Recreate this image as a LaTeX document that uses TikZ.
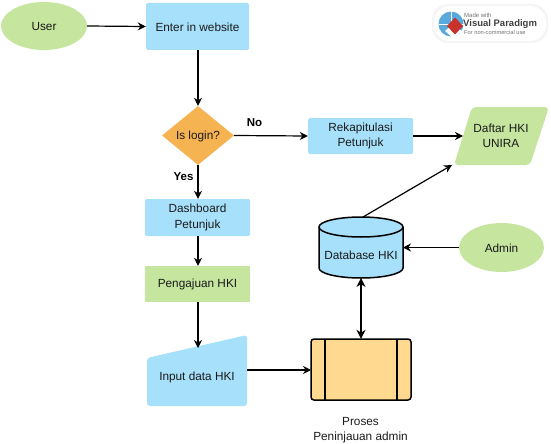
\documentclass[tikz,border=0pt]{standalone}
\usepackage{fontspec}
\setmainfont{Liberation Sans}
\usetikzlibrary{arrows.meta,shapes.geometric}
\definecolor{bl}{HTML}{A6E0FA}
\definecolor{gr}{HTML}{C6E59F}
\definecolor{orng}{HTML}{F6B352}
\definecolor{yel}{HTML}{FFD98F}
\definecolor{txt}{HTML}{1A1A1A}
\definecolor{globe}{HTML}{5AA9DC}
\definecolor{vpred}{HTML}{C8322B}
\tikzset{
  x=1pt,y=-1pt,
  every node/.style={font=\fontsize{11.8}{15.5}\selectfont,text=txt,align=center,inner sep=0pt},
  lowered/.style={execute at begin node={\rule{0pt}{10pt}}},
  lowered more/.style={execute at begin node={\rule{0pt}{12pt}}},
  boxb/.style={fill=bl,rounded corners=1.5pt,minimum width=#1},
  boxb/.default=105,
  ell/.style={lowered,ellipse,fill=gr,minimum width=#1},
  conn/.style={draw=black,line width=1.2pt,-{Stealth[length=8pt,width=8pt]}},
  twoway/.style={draw=black,line width=1.2pt,{Stealth[length=9pt,width=9pt]}-{Stealth[length=9pt,width=9pt]}},
  outline/.style={draw=black,line width=1.5pt},
  edgelabel/.style={font=\fontsize{11.5}{13}\bfseries\selectfont,text=black},
}
\begin{document}
\begin{tikzpicture}
\useasboundingbox (0,0) rectangle (551,444);
% badge
\fill[black!4,rounded corners=16pt] (432,4) rectangle (548,43);
\fill[white,rounded corners=16pt] (434,6) rectangle (546,41);
\fill[globe] (451,24) circle (12.5);
\draw[white,line width=.4pt] (451,11.5) -- (451,36.5) (438.5,24) -- (463.5,24);
\fill[white] (452,25) -- (462,31) -- (453,38) -- (445,31) -- cycle;
\fill[vpred] (455,17.5) -- (463,26) -- (455,34.5) -- (447,26) -- cycle;
\node[anchor=west,font=\fontsize{6}{7}\selectfont,text=black!55] (bmade) at (464,15) {Made with};
\node[anchor=west,font=\fontsize{9.5}{10}\bfseries\selectfont,text=black!75] (bvp) at (463,24) {Visual Paradigm};
\node[anchor=west,font=\fontsize{5.7}{7}\selectfont,text=black!55] (bfor) at (464,32.5) {For non-commercial use};
% free-form shapes
\fill[bl,rounded corners=3pt] (147,406) -- (147,358) -- (247,335) -- (247,406) -- cycle;
\fill[gr,rounded corners=4pt] (472,107) -- (549,107) -- (530,165) -- (454,165) -- cycle;
\fill[bl] (319,227) -- (319,268) arc[start angle=180,end angle=360,x radius=42,y radius=-10] -- (403,227) arc[start angle=0,end angle=180,x radius=42,y radius=-10] -- cycle;
\draw[outline] (319,227) -- (319,268) arc[start angle=180,end angle=360,x radius=42,y radius=-10] -- (403,227);
\draw[outline] (361,227) ellipse[x radius=42,y radius=10];
\draw[outline,fill=yel,rounded corners=3pt] (311,339) rectangle (411,400);
\draw[outline] (325,339) -- (325,400) (397,339) -- (397,400);
% nodes
\node[ell=86,minimum height=48] (user) at (44,26) {User};
\node[lowered,boxb=103,minimum height=47] (enter) at (197.5,26.5) {Enter in website};
\node[lowered,diamond,aspect=1.22,fill=orng,minimum width=72,minimum height=59] (login) at (198,135.5) {Is login?};
\node[lowered more,boxb,minimum height=37] (dash) at (197.5,217.5) {Dashboard\\Petunjuk};
\node[lowered,fill=gr,minimum width=105,minimum height=36] (peng) at (197.5,284) {Pengajuan HKI};
\node[lowered,minimum width=100,minimum height=58] (input) at (197,377) {Input data HKI};
\node[lowered,boxb,minimum height=36] (rekap) at (360.5,136) {Rekapitulasi\\Petunjuk};
\node[minimum width=76,minimum height=58] (daftar) at (501,136) {Daftar HKI\\UNIRA};
\node[lowered,minimum width=84,minimum height=61] (db) at (361,254.5) {Database HKI};
\node[ell=85,minimum height=49] (admin) at (501.5,247.5) {Admin};
\node[minimum width=100,minimum height=61] (proses) at (361,369.5) {};
\node[lowered] (proseslabel) at (360.5,430) {Proses\\Peninjauan admin};
\coordinate (inputtop) at (198,348);
\coordinate (dbtop) at (363,217);
\coordinate (daftarbl) at (452,165);
\coordinate (dbright) at (403,247.5);
\coordinate (daftarleft) at (463,136);
\coordinate (dbbottom) at (361,278);
\coordinate (inputright) at (247,370);
\coordinate (prosesleft) at (311,370);
% connectors
\draw[conn] (user.east) -- (enter.west);
\draw[conn] (enter.south -| login.north) -- (login.north);
\draw[conn] (login.south) -- (dash.north -| login.south);
\draw[conn] (dash.south -| login.south) -- (peng.north -| login.south);
\draw[conn] (peng.south -| inputtop) -- (inputtop);
\draw[conn] (inputright) -- (prosesleft);
\draw[twoway] (proses.north) -- (dbbottom);
\draw[conn] (admin.west) -- (dbright);
\draw[conn] (login.east) -- (rekap.west);
\draw[conn] (rekap.east) -- (daftarleft);
\draw[conn] (dbtop) -- (daftarbl);
\node[edgelabel] (nolabel) at (254.5,122.5) {No};
\node[edgelabel] (yeslabel) at (183.5,176.5) {Yes};
\end{tikzpicture}
\end{document}
